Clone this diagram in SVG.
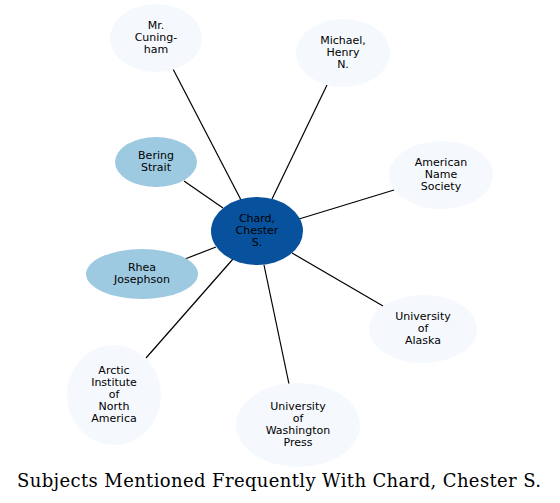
<svg xmlns="http://www.w3.org/2000/svg" width="560" height="503" viewBox="0 0 560 503">
<style>
.e{stroke:#000;stroke-width:1.2}
.lt{fill:#f5f9fe}
.md{fill:#9ecae1}
.dk{fill:#08519c}
text{font-family:"DejaVu Sans",sans-serif;font-size:11px;text-anchor:middle;fill:#000}
.title{font-family:"DejaVu Serif",serif;font-size:18px}
</style>
<rect width="560" height="503" fill="#fff"/>
<g id="edges">
<line class="e" x1="173" y1="69" x2="241" y2="200"/>
<line class="e" x1="327" y1="85" x2="272" y2="199"/>
<line class="e" x1="394" y1="190" x2="299" y2="219"/>
<line class="e" x1="383" y1="306" x2="292" y2="253"/>
<line class="e" x1="289" y1="384" x2="264" y2="265"/>
<line class="e" x1="146" y1="358" x2="233" y2="259"/>
<line class="e" x1="185" y1="259" x2="216" y2="247"/>
<line class="e" x1="184" y1="181" x2="223" y2="208"/>
</g>
<g id="n-cuningham"><ellipse class="lt" cx="156" cy="38" rx="46" ry="34"/><text x="156" y="29">Mr.</text><text x="156" y="41">Cuning-</text><text x="156" y="53">ham</text></g>
<g id="n-michael"><ellipse class="lt" cx="343" cy="53" rx="47" ry="34"/><text x="343" y="44">Michael,</text><text x="343" y="56">Henry</text><text x="343" y="68">N.</text></g>
<g id="n-ans"><ellipse class="lt" cx="441" cy="175" rx="52" ry="34"/><text x="441" y="166">American</text><text x="441" y="178">Name</text><text x="441" y="190">Society</text></g>
<g id="n-alaska"><ellipse class="lt" cx="423" cy="329" rx="54" ry="34"/><text x="423" y="320">University</text><text x="423" y="332">of</text><text x="423" y="344">Alaska</text></g>
<g id="n-uwp"><ellipse class="lt" cx="298" cy="425" rx="62" ry="42"/><text x="298" y="410">University</text><text x="298" y="422">of</text><text x="298" y="434">Washington</text><text x="298" y="446">Press</text></g>
<g id="n-arctic"><ellipse class="lt" cx="114" cy="395" rx="47" ry="50"/><text x="114" y="374">Arctic</text><text x="114" y="386">Institute</text><text x="114" y="398">of</text><text x="114" y="410">North</text><text x="114" y="422">America</text></g>
<g id="n-rhea"><ellipse class="md" cx="142" cy="274" rx="56" ry="25"/><text x="142" y="271">Rhea</text><text x="142" y="283">Josephson</text></g>
<g id="n-bering"><ellipse class="md" cx="156" cy="162" rx="41" ry="25"/><text x="156" y="159">Bering</text><text x="156" y="171">Strait</text></g>
<g id="n-chard"><ellipse class="dk" cx="257" cy="231" rx="46" ry="34"/><text x="257" y="222">Chard,</text><text x="257" y="234">Chester</text><text x="257" y="246">S.</text></g>
<text class="title" x="279" y="487" textLength="524">Subjects Mentioned Frequently With Chard, Chester S.</text>
</svg>
